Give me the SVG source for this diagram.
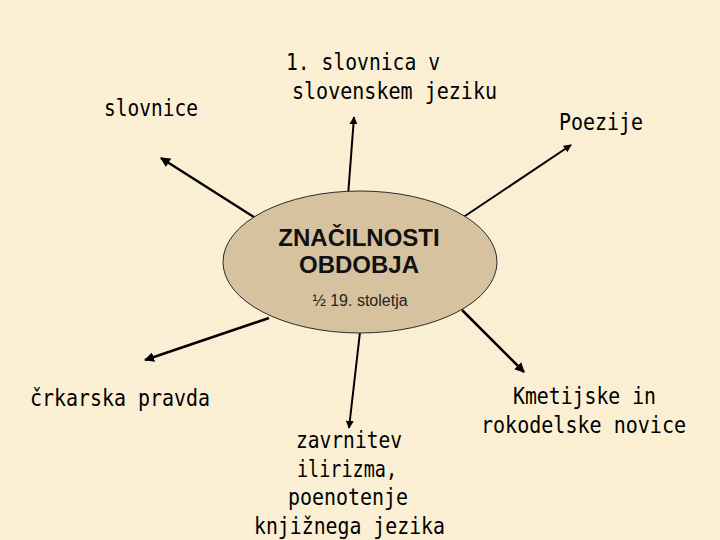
<svg xmlns="http://www.w3.org/2000/svg" width="720" height="540" viewBox="0 0 720 540">
  <defs>
    <filter id="paper" x="0" y="0" width="100%" height="100%">
      <feTurbulence type="fractalNoise" baseFrequency="0.04" numOctaves="3" seed="4" result="n"/>
      <feColorMatrix in="n" type="matrix" values="0 0 0 0 0.93  0 0 0 0 0.86  0 0 0 0 0.70  0 0 0 1.1 -0.45" result="c"/>
      <feComposite in="c" in2="SourceGraphic" operator="in"/>
    </filter>
    <marker id="ah" viewBox="0 0 10 10" refX="9" refY="5" markerWidth="4" markerHeight="4" orient="auto" markerUnits="strokeWidth">
      <path d="M0,0 L10,5 L0,10 Z" fill="#000"/>
    </marker>
    <style>
      .lbl { font-family: "DejaVu Sans Mono", "Liberation Mono", monospace; font-size: 23px; fill: #000; }
      .con { stroke: #000; stroke-width: 2.5; fill: none; marker-end: url(#ah); }
      .thin { stroke-width: 2; }
      .title { font-family: "Liberation Sans", Arial, sans-serif; font-size: 24px; font-weight: bold; fill: #111; text-anchor: middle; }
      .sub { font-family: "Liberation Sans", Arial, sans-serif; font-size: 16px; fill: #222; text-anchor: middle; }
    </style>
  </defs>

  <rect width="720" height="540" fill="#fbefd3"/>
  <rect width="720" height="540" fill="#fff" filter="url(#paper)" opacity="0.6"/>

  <g id="connectors">
    <line class="con" x1="257" y1="219" x2="161" y2="158"/>
    <line class="con thin" x1="348" y1="196" x2="354" y2="117"/>
    <line class="con thin" x1="462" y1="218" x2="571" y2="145"/>
    <line class="con" x1="269" y1="318" x2="145" y2="360"/>
    <line class="con thin" x1="360" y1="332" x2="349" y2="428"/>
    <line class="con" x1="462" y1="310" x2="524" y2="372"/>
  </g>

  <g id="center">
    <ellipse cx="360" cy="262" rx="137" ry="71" fill="#d7c29f" stroke="#2a2a2a" stroke-width="1"/>
    <text class="title" x="359" y="246">ZNAČILNOSTI</text>
    <text class="title" x="359" y="273">OBDOBJA</text>
    <text class="sub" x="360" y="306">½ 19. stoletja</text>
  </g>

  <g id="slovnice">
    <text class="lbl" x="104" y="116" textLength="94" lengthAdjust="spacingAndGlyphs">slovnice</text>
  </g>

  <g id="slovnica-v">
    <text class="lbl" x="286" y="70" textLength="154" lengthAdjust="spacingAndGlyphs">1. slovnica v</text>
    <text class="lbl" x="292" y="99" textLength="205" lengthAdjust="spacingAndGlyphs">slovenskem jeziku</text>
  </g>

  <g id="poezije">
    <text class="lbl" x="559" y="130" textLength="84" lengthAdjust="spacingAndGlyphs">Poezije</text>
  </g>

  <g id="crkarska">
    <text class="lbl" x="30" y="406" textLength="180" lengthAdjust="spacingAndGlyphs">črkarska pravda</text>
  </g>

  <g id="zavrnitev">
    <text class="lbl" x="296" y="448" textLength="106" lengthAdjust="spacingAndGlyphs">zavrnitev</text>
    <text class="lbl" x="297" y="477" textLength="100" lengthAdjust="spacingAndGlyphs">ilirizma,</text>
    <text class="lbl" x="288" y="505" textLength="120" lengthAdjust="spacingAndGlyphs">poenotenje</text>
    <text class="lbl" x="254" y="534" textLength="191" lengthAdjust="spacingAndGlyphs">knjižnega jezika</text>
  </g>

  <g id="kmetijske">
    <text class="lbl" x="513" y="404" textLength="143" lengthAdjust="spacingAndGlyphs">Kmetijske in</text>
    <text class="lbl" x="481" y="433" textLength="205" lengthAdjust="spacingAndGlyphs">rokodelske novice</text>
  </g>
</svg>
